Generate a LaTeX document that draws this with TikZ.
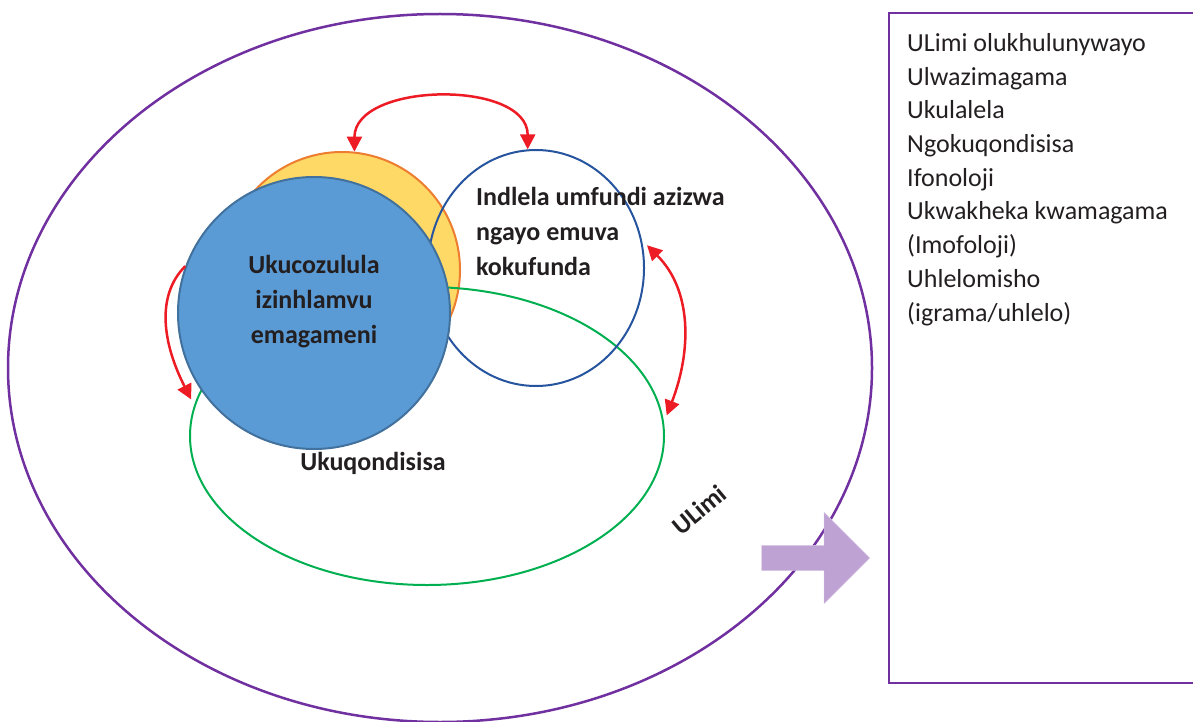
\documentclass[tikz,border=0pt]{standalone}
\usepackage{fontspec}
\setmainfont{Carlito}
\usetikzlibrary{arrows.meta,shapes.geometric,shapes.arrows}
\definecolor{ulpurple}{RGB}{112,48,160}
\definecolor{ulorange}{RGB}{237,125,49}
\definecolor{ulyellow}{RGB}{255,217,102}
\definecolor{ulblue}{RGB}{91,155,213}
\definecolor{ulblueline}{RGB}{65,113,156}
\definecolor{uldarkblue}{RGB}{38,84,158}
\definecolor{ulgreen}{RGB}{0,176,80}
\definecolor{ulred}{RGB}{237,28,36}
\definecolor{ultext}{RGB}{35,31,32}

\begin{document}
\begin{tikzpicture}[x=1pt,y=-1pt,
    ring/.style={ellipse,inner sep=0pt,line width=2pt},
    lbl/.style={font=\fontsize{26}{35}\selectfont\bfseries,text=ultext,inner sep=0pt},
    plain/.style={font=\fontsize{26}{33.7}\selectfont,text=ultext,inner sep=0pt,align=left},
    link/.style={ulred,line width=2.5pt,-{Triangle[length=15pt,width=15pt]}},
    twoway/.style={link,{Triangle[length=15pt,width=15pt]}-{Triangle[length=15pt,width=15pt]}},
    bigarrow/.style={single arrow,single arrow head extend=33pt,minimum height=108pt,
        inner sep=0pt,inner ysep=12.5pt,fill=ulpurple!45,draw=ulpurple!25}]

    \useasboundingbox (0,0) rectangle (1193,722);
    \clip (0,0) rectangle (1193,722);

    % Circles and ellipses
    \node[ring,draw=ulpurple,line width=2.5pt,minimum width=864pt,minimum height=708pt] (ulimi) at (440,368) {};
    \node[ring,circle,draw=ulorange,fill=ulyellow,minimum size=236pt] (yellow) at (342,270) {};
    \node[ring,draw=ulgreen,minimum width=474pt,minimum height=298pt] (green) at (427,436) {};
    \node[ring,draw=uldarkblue,minimum width=216pt,minimum height=236pt] (blueell) at (536,268) {};
    \node[ring,circle,draw=ulblueline,fill=ulblue,minimum size=272pt] (blue) at (314,313) {};

    \node[lbl,align=center,anchor=base] (decode) at (314,343) {Ukucozulula\\izinhlamvu\\emagameni};
    \node[lbl,align=left,anchor=base west] (feeling) at (476,275) {Indlela umfundi azizwa\\ngayo emuva\\kokufunda};
    \node[lbl,anchor=base] (compre) at (373,470) {Ukuqondisisa};
    \node[lbl,rotate=40] (lang) at (699,510) {ULimi};

    % Red links
    \draw[twoway] (yellow.84) .. controls +(0,-70) and +(0,-70) .. (blueell.94);
    \draw[link] (blue.160) .. controls +(-30,30) and +(-28,-55) .. ([xshift=-5pt]green.171);
    \draw[twoway] ([xshift=4pt]blueell.12) .. controls +(45,45) and +(25,-65) .. ([xshift=4pt]green.5);

    % Box on the right
    \node[bigarrow,anchor=tip] (toBox) at (870,558) {};
    \node[draw=ulpurple,line width=2pt,minimum width=330pt,minimum height=670pt,anchor=north west,inner sep=0pt] (skills) at (888,12) {};
    \node[plain,anchor=base west] (list) at (907,321) {ULimi olukhulunywayo\\Ulwazimagama\\Ukulalela\\Ngokuqondisisa\\Ifonoloji\\Ukwakheka kwamagama\\(Imofoloji)\\Uhlelomisho\\(igrama/uhlelo)};
\end{tikzpicture}
\end{document}
